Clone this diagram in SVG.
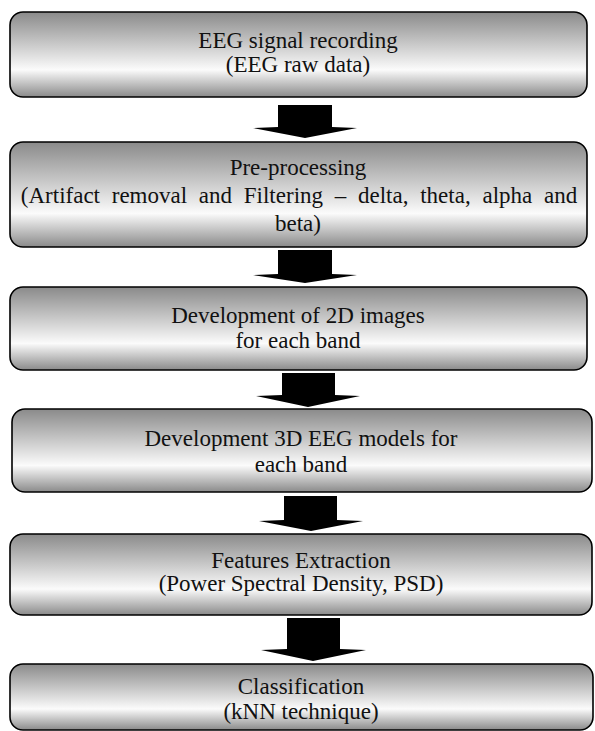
<svg xmlns="http://www.w3.org/2000/svg" width="595" height="731" viewBox="0 0 595 731">
<defs>
<linearGradient id="g" x1="0" y1="0" x2="0" y2="1">
<stop offset="0" stop-color="#8a8a8a"/>
<stop offset="0.35" stop-color="#c4c4c4"/>
<stop offset="0.68" stop-color="#fbfbfb"/>
<stop offset="1" stop-color="#8a8a8a"/>
</linearGradient>
<style>
.box{fill:url(#g);stroke:#000;stroke-width:1.6}
.t{font-size:23px;fill:#111;text-anchor:middle}
.arr{fill:#000}
</style>
</defs>
<rect width="595" height="731" fill="#fff"/>
<g font-family="'Liberation Serif', 'Tinos', 'DejaVu Serif', serif">
<g id="n1">
<rect class="box" x="10" y="12" width="577" height="85" rx="13"/>
<text class="t" x="298" y="48">EEG signal recording</text>
<text class="t" x="298" y="72">(EEG raw data)</text>
</g>
<g id="n2">
<rect class="box" x="10" y="142" width="577" height="105" rx="13"/>
<text class="t" x="298" y="175">Pre-processing</text>
<text class="t" x="299" y="203" word-spacing="6">(Artifact removal and Filtering – delta, theta, alpha and</text>
<text class="t" x="298" y="231">beta)</text>
</g>
<g id="n3">
<rect class="box" x="10" y="287" width="577" height="83" rx="13"/>
<text class="t" x="298" y="323">Development of 2D images</text>
<text class="t" x="298" y="348">for each band</text>
</g>
<g id="n4">
<rect class="box" x="12" y="409" width="580" height="83" rx="13"/>
<text class="t" x="301" y="446">Development 3D EEG models for</text>
<text class="t" x="301" y="472">each band</text>
</g>
<g id="n5">
<rect class="box" x="10" y="534" width="582" height="81" rx="13"/>
<text class="t" x="301" y="568">Features Extraction</text>
<text class="t" x="301" y="591">(Power Spectral Density, PSD)</text>
</g>
<g id="n6">
<rect class="box" x="10" y="664" width="583" height="66" rx="13"/>
<text class="t" x="301" y="694">Classification</text>
<text class="t" x="301" y="719">(kNN technique)</text>
</g>
</g>
<g id="connectors">
<polygon class="arr" points="278,105 332,105 332,127 357,128 305,138 253,128 278,127"/>
<polygon class="arr" points="278,250 332,250 332,274 357,275 305,283 253,275 278,274"/>
<polygon class="arr" points="282,373 335,373 335,395 360,396 308,407 256,396 282,395"/>
<polygon class="arr" points="284,496 337,496 337,520 363,521 311,531 259,521 284,520"/>
<polygon class="arr" points="287,618 340,618 340,649 366,650 313,661 261,650 287,649"/>
</g>
</svg>
